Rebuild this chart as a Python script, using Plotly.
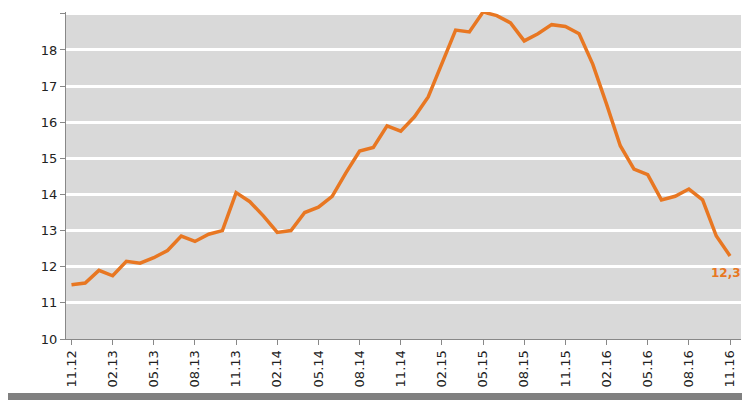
import plotly.graph_objects as go

labels_all = []
m, y = 11, 12
for i in range(49):
    labels_all.append(f"{m:02d}.{y:02d}")
    m += 1
    if m > 12:
        m, y = 1, y + 1

values = [11.5, 11.55, 11.9, 11.75, 12.15, 12.1, 12.25, 12.45, 12.85, 12.7, 12.9, 13.0,
          14.05, 13.8, 13.4, 12.95, 13.0, 13.5, 13.65, 13.95, 14.6, 15.2, 15.3, 15.9,
          15.75, 16.15, 16.7, 17.6, 18.55, 18.5, 19.05, 18.95, 18.75, 18.25, 18.45, 18.7,
          18.65, 18.45, 17.6, 16.5, 15.35, 14.7, 14.55, 13.85, 13.95, 14.15, 13.85, 12.85, 12.3]
tick_labels = labels_all[::3]
y_ticks = list(range(10, 20))
orange = "#E87722"

fig = go.Figure(go.Scatter(x=list(range(49)), y=values, mode="lines",
                           line=dict(color=orange, width=3.5), hoverinfo="skip"))
fig.add_annotation(x=48, y=values[-1], text="<b>12,3</b>", showarrow=False,
                   yshift=-17, xshift=-4, font=dict(color=orange, size=12, family="DejaVu Sans"))
fig.add_shape(type="rect", xref="paper", yref="paper", x0=-1, x1=2, y0=-0.25, y1=-0.165,
              fillcolor="#808080", line_width=0, layer="above")
fig.update_layout(
    width=750, height=400, margin=dict(l=58, r=17, t=4, b=69, autoexpand=False),
    paper_bgcolor="white", plot_bgcolor="#D9D9D9", showlegend=False,
    font=dict(family="DejaVu Sans", size=13, color="#222"),
    xaxis=dict(range=[-0.4, 48.8], tickvals=list(range(0, 49, 3)), ticktext=tick_labels,
               tickangle=-90, showgrid=False, zeroline=False, ticks="outside", ticklen=5,
               tickcolor="#888", showline=True, linecolor="#888", fixedrange=True,
               automargin=False),
    yaxis=dict(range=[10, 19.05], tickvals=y_ticks, showgrid=True, gridcolor="white",
               gridwidth=3, zeroline=False, ticks="outside", ticklen=5, tickcolor="#888",
               showline=True, linecolor="#888", fixedrange=True, automargin=False),
)
fig.write_html("out.html")
